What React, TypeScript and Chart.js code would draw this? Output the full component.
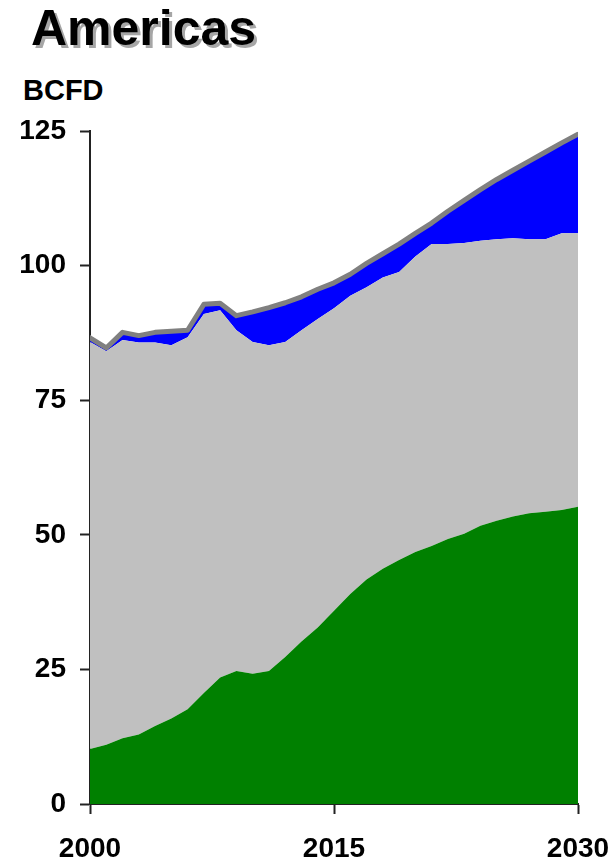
import React, { useEffect, useRef } from "react";
import { Chart, registerables } from "chart.js";

Chart.register(...registerables);

const years: number[] = [
  2000, 2001, 2002, 2003, 2004, 2005, 2006, 2007, 2008, 2009, 2010,
  2011, 2012, 2013, 2014, 2015, 2016, 2017, 2018, 2019, 2020,
  2021, 2022, 2023, 2024, 2025, 2026, 2027, 2028, 2029, 2030,
];

// bottom (green) layer
const greenSeries: number[] = [
  10.2, 11.0, 12.2, 12.9, 14.5, 15.9, 17.6, 20.6, 23.5, 24.7, 24.2,
  24.7, 27.3, 30.2, 32.8, 35.9, 39.0, 41.7, 43.7, 45.3, 46.8,
  47.9, 49.2, 50.2, 51.7, 52.6, 53.4, 54.0, 54.3, 54.6, 55.2,
];

// middle (gray) layer
const graySeries: number[] = [
  75.6, 73.1, 74.0, 72.8, 71.2, 69.3, 69.1, 70.4, 68.2, 63.3, 61.6,
  60.5, 58.5, 57.8, 57.3, 56.2, 55.4, 54.3, 54.1, 53.5, 54.9,
  56.1, 54.8, 54.0, 52.9, 52.3, 51.7, 50.9, 50.6, 51.4, 50.8,
];

// top (blue) layer
const blueSeries: number[] = [
  0.8, 0.6, 1.4, 1.3, 1.9, 2.6, 1.3, 1.8, 1.3, 2.7, 5.6,
  7.0, 7.3, 6.2, 5.5, 4.7, 4.0, 4.4, 4.4, 5.2, 4.3,
  3.9, 6.1, 7.9, 9.5, 11.1, 12.6, 14.5, 16.2, 16.8, 18.4,
];

const xTickValues: number[] = [2000, 2015, 2030];
const yTickValues: number[] = [0, 25, 50, 75, 100, 125];

const titleText = "Americas";
const unitText = "BCFD";

const FONT = "'Liberation Sans', Arial, sans-serif";

export default function App() {
  const canvasRef = useRef<HTMLCanvasElement | null>(null);

  useEffect(() => {
    const canvas = canvasRef.current;
    if (!canvas) return;
    const toPts = (vals: number[]) => years.map((y, i) => ({ x: y, y: vals[i] }));
    const chart = new Chart(canvas, {
      type: "line",
      data: {
        datasets: [
          {
            label: "green",
            data: toPts(greenSeries),
            backgroundColor: "#008000",
            borderWidth: 0,
            borderColor: "#008000",
            fill: "origin",
            pointRadius: 0,
            tension: 0,
          },
          {
            label: "gray",
            data: toPts(graySeries),
            backgroundColor: "#C0C0C0",
            borderWidth: 0,
            borderColor: "#C0C0C0",
            fill: "-1",
            pointRadius: 0,
            tension: 0,
          },
          {
            label: "blue",
            data: toPts(blueSeries),
            backgroundColor: "#0000FF",
            borderColor: "#808080",
            borderWidth: 5,
            borderCapStyle: "round",
            borderJoinStyle: "round",
            fill: "-1",
            pointRadius: 0,
            tension: 0,
          },
        ],
      },
      options: {
        animation: false,
        responsive: false,
        maintainAspectRatio: false,
        layout: { padding: { left: 0, right: 34, top: 131, bottom: 0 } },
        plugins: {
          legend: { display: false },
          tooltip: { enabled: false },
          title: { display: false },
        },
        scales: {
          x: {
            type: "linear",
            min: 2000,
            max: 2030,
            afterFit: (s: any) => {
              s.height = 63;
              s.paddingLeft = 0;
              s.paddingRight = 0;
            },
            afterBuildTicks: (s: any) => {
              s.ticks = xTickValues.map((v) => ({ value: v }));
            },
            ticks: {
              autoSkip: false,
              maxRotation: 0,
              padding: 18,
              color: "#000",
              font: { family: FONT, size: 28, weight: "bold" },
              callback: (v: any) => String(v),
            },
            grid: {
              display: true,
              drawOnChartArea: false,
              drawTicks: true,
              tickLength: 10,
              tickColor: "#222",
              tickWidth: 2,
            },
            border: { display: true, color: "#222", width: 2 },
          },
          y: {
            type: "linear",
            stacked: true,
            min: 0,
            max: 125,
            afterFit: (s: any) => {
              s.width = 90;
              s.paddingTop = 0;
              s.paddingBottom = 0;
            },
            afterBuildTicks: (s: any) => {
              s.ticks = yTickValues.map((v) => ({ value: v }));
            },
            ticks: {
              padding: 14,
              color: "#000",
              font: { family: FONT, size: 28, weight: "bold" },
              callback: (v: any) => String(v),
            },
            grid: {
              display: true,
              drawOnChartArea: false,
              drawTicks: true,
              tickLength: 10,
              tickColor: "#222",
              tickWidth: 2,
            },
            border: { display: true, color: "#222", width: 2 },
          },
        },
      },
    } as any);
    return () => chart.destroy();
  }, []);

  return (
    <div style={{ position: "absolute", left: 0, top: 0, width: 612, height: 867, background: "#fff" }}>
      <div
        style={{
          position: "absolute",
          left: 31,
          top: 3,
          fontFamily: FONT,
          fontWeight: "bold",
          fontSize: 50,
          lineHeight: "50px",
          color: "#000",
          textShadow: "3px 3px 0 #a6a6a6",
          whiteSpace: "nowrap",
        }}
      >
        {titleText}
      </div>
      <div
        style={{
          position: "absolute",
          left: 23,
          top: 76,
          fontFamily: FONT,
          fontWeight: "bold",
          fontSize: 29,
          lineHeight: "29px",
          color: "#000",
          whiteSpace: "nowrap",
        }}
      >
        {unitText}
      </div>
      <canvas
        ref={canvasRef}
        width={612}
        height={867}
        style={{ position: "absolute", left: 0, top: 0, width: 612, height: 867 }}
      />
    </div>
  );
}
